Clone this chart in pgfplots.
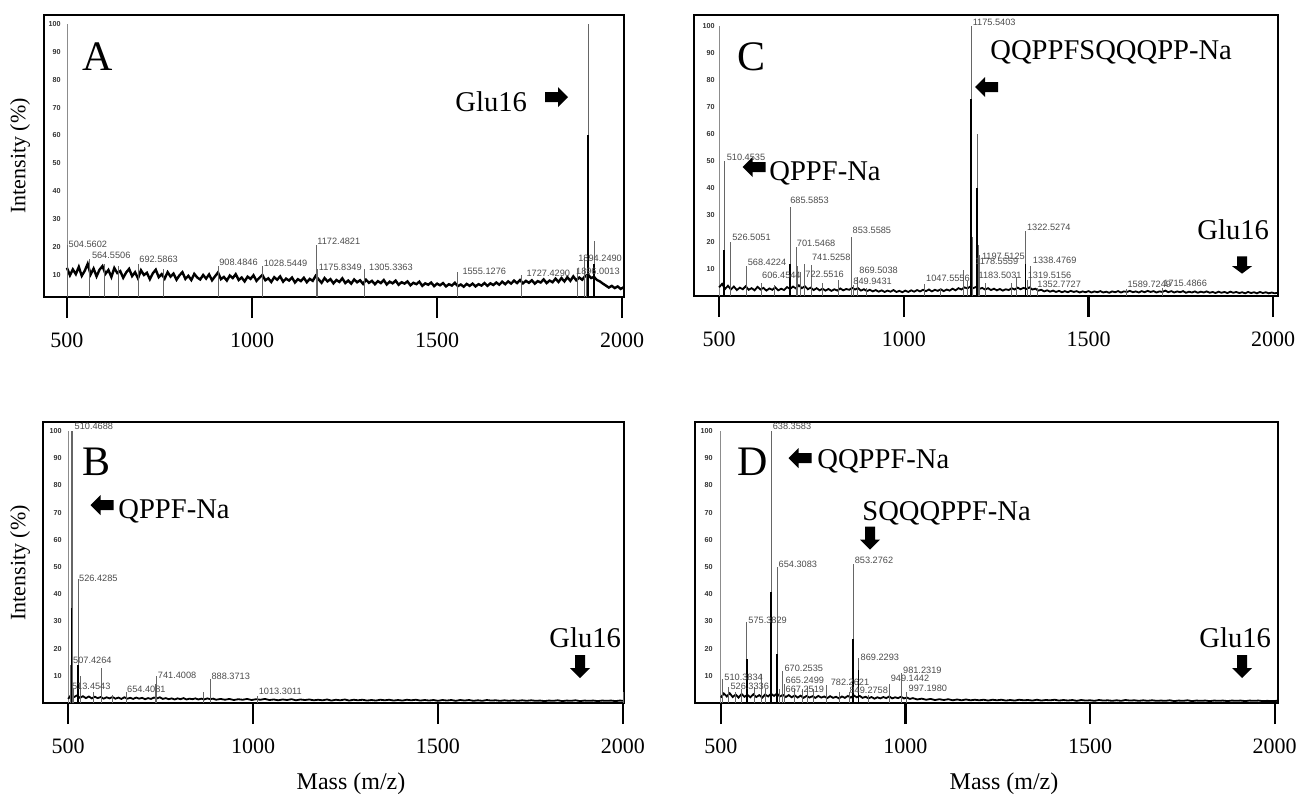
\documentclass[border=0pt]{standalone}
\usepackage{pgfplots}
\pgfplotsset{compat=1.18}
\usepackage{fontspec}
\setmainfont{Liberation Serif}
\newfontfamily\arial{Liberation Sans}

\pgfplotsset{
  spec/.style={
    scale only axis, anchor=north west,
    clip mode=individual,
    axis line style={line width=0.9pt},
    xtick={500,1000,1500,2000}, xticklabels={500,1000,1500,2000},
    xtick pos=left, xtick align=outside,
    major tick length=10.5pt,
    x tick style={line width=1.1pt, black},
    x tick label style={font=\fontsize{11}{13}\selectfont, yshift=-3.7pt},
    ytick={10,20,30,40,50,60,70,80,90,100},
    yticklabels={10,20,30,40,50,60,70,80,90,100},
    ytick pos=left, ytick align=inside, y tick style={draw=none},
    y tick label style={font=\arial\bfseries\fontsize{3.6}{4}\selectfont, text=black!80, inner sep=0pt},
  },
  pk/.style={ycomb, black!60, line width=0.45pt, mark=none},
  core/.style={ycomb, black, line width=0.8pt, mark=none},
  base/.style={black, line width=0.9pt, mark=none},
  ax/.style={black!45, line width=0.4pt, mark=none},
}
\tikzset{lab/.style={font=\arial\fontsize{4.6}{5}\selectfont, text=black!70, anchor=south west, inner sep=0.3pt}}

% block arrow: centre x, centre y (px), direction, length scale
\newcommand{\barrow}[4]{\fill[shift={(#1,#2)}, rotate=#3, xscale=#4] (-11.5,-5)--(1.5,-5)--(1.5,-10)--(11.5,0)--(1.5,10)--(1.5,5)--(-11.5,5)--cycle;}

\begin{document}
\begin{tikzpicture}
\useasboundingbox (0,0) rectangle (648pt,-397pt);

% ---------------- A ----------------
\begin{axis}[spec, at={(22pt,-7.5pt)}, width=290pt, height=141pt,
  xmin=438, xmax=2005, ymin=2, ymax=103.2,
  y tick label style={xshift=8.5pt}]
\addplot[ax] coordinates {(500,2) (500,100)};
\addplot[base, line width=1.2pt] coordinates {
(500,12.5)(508,9.8)(516,11.9)(524,10.2)(532,12.8)(540,9.6)(548,11.4)(556,13.9)(564,10.1)(572,12.2)
(580,9.4)(588,11.8)(596,13.1)(604,10.3)(612,11.7)(620,9.2)(628,12.4)(636,10.6)(644,11.3)(652,8.9)
(660,10.8)(668,12.1)(676,9.5)(684,10.9)(692,8.7)(700,11.6)(708,9.9)(716,10.7)(724,8.4)(732,10.5)
(740,11.8)(748,9.1)(756,10.2)(764,8.6)(772,10.9)(780,9.3)(788,10.4)(796,8.2)(804,9.8)(812,10.9)
(820,8.5)(828,9.6)(836,8.1)(844,10.3)(852,9.0)(860,8.3)(868,9.9)(876,8.6)(884,10.1)(892,8.0)
(900,9.4)(908,10.8)(916,8.4)(924,9.2)(932,7.9)(940,9.7)(948,8.8)(956,10.2)(964,8.1)(972,9.0)
(980,7.6)(988,9.3)(996,8.5)(1004,9.8)(1012,7.8)(1020,8.9)(1028,9.9)(1036,8.0)(1044,8.7)(1052,7.4)
(1060,9.1)(1068,8.2)(1076,9.4)(1084,7.5)(1092,8.6)(1100,7.9)(1108,9.0)(1116,7.2)(1124,8.4)(1132,7.7)
(1140,8.9)(1148,7.3)(1156,8.5)(1164,7.8)(1172,9.6)(1180,8.3)(1188,7.1)(1196,8.8)(1204,7.6)(1212,8.4)
(1220,6.9)(1228,8.1)(1236,7.4)(1244,8.7)(1252,7.0)(1260,7.9)(1268,6.8)(1276,8.3)(1284,7.3)(1292,8.0)
(1300,6.7)(1308,8.2)(1316,7.1)(1324,7.8)(1332,6.6)(1340,7.7)(1348,7.0)(1356,8.1)(1364,6.5)(1372,7.5)
(1380,6.9)(1388,7.9)(1396,6.4)(1404,7.3)(1412,6.8)(1420,7.6)(1428,6.2)(1436,7.1)(1444,6.6)(1452,7.5)
(1460,6.0)(1468,6.9)(1476,6.4)(1484,7.2)(1492,5.9)(1500,6.8)(1508,6.2)(1516,7.0)(1524,5.8)(1532,6.6)
(1540,6.1)(1548,7.1)(1556,5.9)(1564,6.5)(1572,5.7)(1580,6.7)(1588,6.0)(1596,6.8)(1604,5.8)(1612,6.6)
(1620,6.1)(1628,7.0)(1636,6.0)(1644,6.9)(1652,6.3)(1660,7.2)(1668,6.4)(1676,7.5)(1684,6.6)(1692,7.6)
(1700,6.8)(1708,7.9)(1716,7.0)(1724,8.1)(1732,6.9)(1740,7.8)(1748,7.1)(1756,8.0)(1764,6.8)(1772,7.7)
(1780,7.2)(1788,8.3)(1796,7.0)(1804,7.9)(1812,7.3)(1820,8.6)(1828,7.4)(1836,8.8)(1844,7.6)(1852,9.1)
(1860,7.8)(1868,9.4)(1876,8.0)(1884,9.0)(1892,8.2)(1900,9.5)(1908,10.0)(1916,8.8)(1924,9.2)(1932,8.1)
(1940,7.6)(1948,6.8)(1956,6.1)(1964,5.4)(1972,6.0)(1980,5.2)(1988,5.8)(1996,4.9)(2004,5.5)};
\addplot[pk] coordinates {
(501,20.5)(560,15.5)(600,14)(640,13)(693,14)(760,12)(908,13)(1028,13)(1173,20.5)(1176,12)
(1305,12)(1555,11)(1727,10)(1880,12)(1897,16.5)(1903,10)(1908,100)(1924,22)};
\addplot[core] coordinates {(1908,60)(1924,14)};
\node[lab] at (axis cs:502,19.5) {504.5602};
\node[lab] at (axis cs:565,15.4) {564.5506};
\node[lab] at (axis cs:693,14) {692.5863};
\node[lab] at (axis cs:909,13) {908.4846};
\node[lab] at (axis cs:1029,12.7) {1028.5449};
\node[lab] at (axis cs:1174,20.5) {1172.4821};
\node[lab] at (axis cs:1178,11.2) {1175.8349};
\node[lab] at (axis cs:1314,11.2) {1305.3363};
\node[lab] at (axis cs:1566,9.7) {1555.1276};
\node[lab] at (axis cs:1739,9.1) {1727.4290};
\node[lab] at (axis cs:1879,14.5) {1894.2490};
\node[lab] at (axis cs:1873,9.7) {1896.0013};
\end{axis}

% ---------------- C ----------------
\begin{axis}[spec, at={(347pt,-7.5pt)}, width=292pt, height=140.5pt,
  xmin=432, xmax=2013, ymin=0, ymax=104,
  y tick label style={xshift=10.5pt}]
\addplot[ax] coordinates {(500,0) (500,100)};
\addplot[base] coordinates {
(500,3.2)(508,4.5)(516,2.6)(524,3.8)(532,2.4)(540,3.5)(548,2.2)(556,3.1)(564,2.5)(572,3.6)
(580,2.3)(588,2.9)(596,2.1)(604,3.4)(612,2.4)(620,3.0)(628,2.0)(636,2.8)(644,2.3)(652,3.2)
(660,2.1)(668,2.7)(676,2.2)(684,3.3)(692,2.6)(700,3.5)(708,2.8)(716,4.0)(724,2.9)(732,3.6)
(740,2.5)(748,3.1)(756,2.2)(764,2.9)(772,2.1)(780,2.7)(788,2.0)(796,2.6)(804,1.9)(812,2.5)
(820,2.0)(828,2.8)(836,2.1)(844,2.6)(852,2.3)(860,3.0)(868,2.4)(876,2.9)(884,2.0)(892,2.5)
(900,1.8)(908,2.3)(916,1.7)(924,2.2)(932,1.6)(940,2.1)(948,1.5)(956,2.0)(964,1.6)(972,2.2)
(980,1.5)(988,1.9)(996,1.4)(1004,2.0)(1012,1.5)(1020,2.1)(1028,1.6)(1036,2.2)(1044,1.7)(1052,2.3)
(1060,1.8)(1068,2.4)(1076,1.7)(1084,2.3)(1092,1.9)(1100,2.5)(1108,1.8)(1116,2.4)(1124,2.0)(1132,2.7)
(1140,2.1)(1148,2.9)(1156,2.4)(1164,3.2)(1172,2.8)(1180,3.5)(1188,2.9)(1196,3.4)(1204,2.6)(1212,3.0)
(1220,2.4)(1228,2.9)(1236,2.2)(1244,2.7)(1252,2.1)(1260,2.6)(1268,2.0)(1276,2.5)(1284,2.2)(1292,2.9)
(1300,2.4)(1308,3.1)(1316,2.5)(1324,3.0)(1332,2.6)(1340,3.2)(1348,2.4)(1356,2.7)(1364,2.0)(1372,2.3)
(1380,1.7)(1388,2.1)(1396,1.6)(1404,2.0)(1412,1.5)(1420,1.9)(1428,1.4)(1436,1.8)(1444,1.4)(1452,1.9)
(1460,1.5)(1468,1.8)(1476,1.3)(1484,1.7)(1492,1.4)(1500,1.8)(1508,1.3)(1516,1.7)(1524,1.4)(1532,1.8)
(1540,1.3)(1548,1.6)(1556,1.2)(1564,1.7)(1572,1.4)(1580,1.8)(1588,1.3)(1596,1.7)(1604,1.5)(1612,1.9)
(1620,1.4)(1628,1.7)(1636,1.3)(1644,1.8)(1652,1.4)(1660,1.9)(1668,1.5)(1676,1.8)(1684,1.3)(1692,1.7)
(1700,1.5)(1708,2.0)(1716,1.4)(1724,1.8)(1732,1.3)(1740,1.7)(1748,1.4)(1756,1.8)(1764,1.2)(1772,1.6)
(1780,1.3)(1788,1.7)(1796,1.2)(1804,1.6)(1812,1.3)(1820,1.7)(1828,1.2)(1836,1.5)(1844,1.1)(1852,1.6)
(1860,1.2)(1868,1.5)(1876,1.1)(1884,1.6)(1892,1.2)(1900,1.5)(1908,1.1)(1916,1.4)(1924,1.0)(1932,1.5)
(1940,1.1)(1948,1.4)(1956,1.0)(1964,1.5)(1972,1.1)(1980,1.4)(1988,1.0)(1996,1.3)(2004,1.0)(2012,1.2)};
\addplot[pk] coordinates {
(513,17)(515,50)(531,20)(575,11)(614,5)(650,4)(692,33)(708,18)(713,11)(719,9)
(732,12)(749,11.5)(780,5)(823,6)(859,22)(864,4)(874,7)(900,3)(1056,4.5)(1100,3)
(1162,9.5)(1171,5.5)(1182,100)(1185,22)(1198,60)(1202,19)(1205,15)(1220,5)(1292,5)(1306,7)
(1329,24)(1336,6)(1342,11)(1361,3)(1603,2.5)(1700,3)};
\addplot[core] coordinates {(513,17)(692,12)(1182,73)(1198,40)(1329,12)};
\node[lab] at (axis cs:518,49.7) {510.4535};
\node[lab] at (axis cs:533,20.1) {526.5051};
\node[lab] at (axis cs:575,10.8) {568.4224};
\node[lab] at (axis cs:614,6.2) {606.4544};
\node[lab] at (axis cs:690,33.7) {685.5853};
\node[lab] at (axis cs:708,18) {701.5468};
\node[lab] at (axis cs:749,12.7) {741.5258};
\node[lab] at (axis cs:731,6.5) {722.5516};
\node[lab] at (axis cs:859,22.8) {853.5585};
\node[lab] at (axis cs:877,8) {869.5038};
\node[lab] at (axis cs:861,3.7) {849.9431};
\node[lab] at (axis cs:1058,4.9) {1047.5556};
\node[lab] at (axis cs:1184,99.6) {1175.5403};
\node[lab] at (axis cs:1209,13.1) {1197.5125};
\node[lab] at (axis cs:1191,11.1) {1178.5559};
\node[lab] at (axis cs:1200,6.2) {1183.5031};
\node[lab] at (axis cs:1331,23.8) {1322.5274};
\node[lab] at (axis cs:1347,11.5) {1338.4769};
\node[lab] at (axis cs:1333,6) {1319.5156};
\node[lab] at (axis cs:1359,2.8) {1352.7727};
\node[lab] at (axis cs:1603,2.8) {1589.7249};
\node[lab] at (axis cs:1700,3) {1715.4866};
\end{axis}

% ---------------- B ----------------
\begin{axis}[spec, at={(21.5pt,-211pt)}, width=290.5pt, height=140.5pt,
  xmin=432, xmax=2003, ymin=0, ymax=103.3,
  y tick label style={xshift=9.5pt}]
\addplot[ax] coordinates {(500,0) (500,100)};
\addplot[base] coordinates {
(500,1.5)(508,3.0)(516,2.2)(524,2.8)(532,1.9)(540,2.5)(548,1.8)(556,2.4)(564,1.7)(572,2.3)
(580,1.8)(588,2.2)(596,1.6)(604,2.1)(612,1.7)(620,2.2)(628,1.6)(636,2.0)(644,1.5)(652,2.1)
(660,1.6)(668,1.9)(676,1.5)(684,2.0)(692,1.6)(700,1.9)(708,1.4)(716,1.8)(724,1.5)(732,2.0)
(740,1.7)(748,2.1)(756,1.5)(764,1.8)(772,1.4)(780,1.7)(788,1.3)(796,1.7)(804,1.4)(812,1.8)
(820,1.3)(828,1.6)(836,1.4)(844,1.7)(852,1.3)(860,1.6)(868,1.3)(876,1.7)(884,1.4)(892,1.6)
(900,1.2)(912,1.5)(924,1.2)(936,1.5)(948,1.1)(960,1.4)(972,1.2)(984,1.5)(996,1.1)(1008,1.4)
(1020,1.2)(1032,1.5)(1044,1.1)(1056,1.3)(1068,1.0)(1080,1.3)(1092,1.1)(1104,1.4)(1116,1.0)(1128,1.3)
(1140,1.1)(1152,1.3)(1164,1.0)(1176,1.2)(1188,1.0)(1200,1.3)(1212,0.9)(1224,1.2)(1236,1.0)(1248,1.3)
(1260,0.9)(1272,1.2)(1284,1.0)(1296,1.2)(1308,0.9)(1320,1.1)(1332,0.9)(1344,1.2)(1356,1.0)(1368,1.2)
(1380,0.9)(1392,1.1)(1404,0.9)(1416,1.2)(1428,1.0)(1440,1.2)(1452,0.9)(1464,1.1)(1476,0.9)(1488,1.1)
(1500,0.8)(1512,1.1)(1524,0.9)(1536,1.1)(1548,0.8)(1560,1.1)(1572,0.9)(1584,1.1)(1596,0.8)(1608,1.0)
(1620,0.8)(1632,1.1)(1644,0.9)(1656,1.0)(1668,0.8)(1680,1.0)(1692,0.8)(1704,1.0)(1716,0.8)(1728,1.0)
(1740,0.8)(1752,1.0)(1764,0.8)(1776,0.9)(1788,0.7)(1800,0.9)(1812,0.8)(1824,1.0)(1836,0.7)(1848,0.9)
(1860,0.8)(1872,1.0)(1884,0.7)(1896,0.9)(1908,0.8)(1920,0.9)(1932,0.7)(1944,0.9)(1956,0.8)(1968,0.9)
(1980,0.7)(1992,0.9)(2002,0.8)};
\addplot[pk] coordinates {
(505,14)(508.5,100)(511.5,100)(513,5)(527,45.6)(533,10)(569,4)(589,12.8)(620,3)(657,4)
(735,7)(738,10)(865,4)(885,8.7)(1013,2.5)(2002,4)};
\addplot[core] coordinates {(509,35)(527,14)};
\node[lab] at (axis cs:515,100.3) {510.4688};
\node[lab] at (axis cs:527,44.4) {526.4285};
\node[lab] at (axis cs:511,14.3) {507.4264};
\node[lab] at (axis cs:508,4.7) {513.4543};
\node[lab] at (axis cs:657,3.6) {654.4081};
\node[lab] at (axis cs:740,8.7) {741.4008};
\node[lab] at (axis cs:885,8.4) {888.3713};
\node[lab] at (axis cs:1013,2.6) {1013.3011};
\end{axis}

% ---------------- D ----------------
\begin{axis}[spec, at={(347.5pt,-211pt)}, width=291.5pt, height=140.5pt,
  xmin=430, xmax=2009, ymin=0, ymax=103.3,
  y tick label style={xshift=9pt}]
\addplot[ax] coordinates {(500,0) (500,100)};
\addplot[base] coordinates {
(500,2.0)(508,3.5)(516,2.4)(524,3.6)(532,2.2)(540,3.1)(548,2.0)(556,3.3)(564,2.3)(572,3.0)
(580,2.1)(588,3.2)(596,2.2)(604,2.9)(612,2.0)(620,3.1)(628,2.4)(636,3.4)(644,2.6)(652,3.5)
(660,2.4)(668,3.0)(676,2.2)(684,2.9)(692,2.1)(700,2.8)(708,2.0)(716,2.7)(724,1.9)(732,2.6)
(740,2.0)(748,2.5)(756,1.9)(764,2.6)(772,2.0)(780,2.4)(788,1.8)(796,2.5)(804,1.9)(812,2.3)
(820,1.7)(828,2.4)(836,1.9)(844,2.6)(852,2.0)(860,2.8)(868,2.1)(876,2.6)(884,1.9)(892,2.3)
(900,1.7)(908,2.2)(916,1.6)(924,2.1)(932,1.7)(940,2.2)(948,1.8)(956,2.4)(964,1.7)(972,2.1)
(980,1.8)(988,2.3)(996,1.7)(1004,2.0)(1012,1.5)(1020,1.8)(1032,1.3)(1044,1.6)(1056,1.2)(1068,1.5)
(1080,1.1)(1092,1.4)(1104,1.1)(1116,1.4)(1128,1.0)(1140,1.3)(1152,1.0)(1164,1.3)(1176,1.0)(1188,1.2)
(1200,1.0)(1212,1.2)(1224,0.9)(1236,1.2)(1248,1.0)(1260,1.2)(1272,0.9)(1284,1.1)(1296,0.9)(1308,1.2)
(1320,1.0)(1332,1.1)(1344,0.9)(1356,1.2)(1368,0.9)(1380,1.1)(1392,1.0)(1404,1.2)(1416,0.9)(1428,1.1)
(1440,0.9)(1452,1.1)(1464,0.8)(1476,1.1)(1488,0.9)(1500,1.0)(1512,0.8)(1524,1.1)(1536,0.9)(1548,1.0)
(1560,0.8)(1572,1.0)(1584,0.8)(1596,1.1)(1608,0.9)(1620,1.0)(1632,0.8)(1644,1.0)(1656,0.8)(1668,1.0)
(1680,0.8)(1692,0.9)(1704,0.8)(1716,1.0)(1728,0.7)(1740,0.9)(1752,0.8)(1764,1.0)(1776,0.7)(1788,0.9)
(1800,0.8)(1812,0.9)(1824,0.7)(1836,0.9)(1848,0.8)(1860,0.9)(1872,0.7)(1884,0.9)(1896,0.8)(1908,0.9)
(1920,0.7)(1932,0.9)(1944,0.8)(1956,0.9)(1968,0.7)(1980,0.8)(1992,0.7)(2006,0.8)};
\addplot[pk] coordinates {
(504.5,8.7)(520,6)(540,4)(557,5)(570.5,29.6)(590,6)(611,10.6)(620,5)(636,100)(652,50)
(660,5)(668,11.8)(673,7)(700,5)(720,5)(735,6)(750,5)(786,6.5)(820,4)(848,4)
(858,51)(873,16.5)(900,3)(957,7)(988,11)(1003,4)};
\addplot[core] coordinates {(570.5,16)(636,40.7)(652,18)(858,23.5)(873,12)};
\node[lab] at (axis cs:638,100.3) {638.3583};
\node[lab] at (axis cs:654,49.3) {654.3083};
\node[lab] at (axis cs:572,28.8) {575.3829};
\node[lab] at (axis cs:860,50.9) {853.2762};
\node[lab] at (axis cs:876,15.2) {869.2293};
\node[lab] at (axis cs:670,11.2) {670.2535};
\node[lab] at (axis cs:507,7.7) {510.3834};
\node[lab] at (axis cs:523.5,4.4) {526.3336};
\node[lab] at (axis cs:673,6.9) {665.2499};
\node[lab] at (axis cs:673,3.4) {667.2519};
\node[lab] at (axis cs:795,6.0) {782.2621};
\node[lab] at (axis cs:846,3.0) {849.2758};
\node[lab] at (axis cs:957.5,7.5) {949.1442};
\node[lab] at (axis cs:991,10.3) {981.2319};
\node[lab] at (axis cs:1006,3.8) {997.1980};
\end{axis}

% ---------------- annotations (pixel grid) ----------------
\begin{scope}[x=0.5pt, y=-0.5pt]
\tikzset{big/.style={anchor=base west, inner sep=0pt, font=\fontsize{21}{24}\selectfont},
         ann/.style={anchor=base west, inner sep=0pt, font=\fontsize{14.3}{16}\selectfont}}
\node[big] at (82,70) {A};
\node[big] at (737,70) {C};
\node[big] at (82,475) {B};
\node[big] at (737,475) {D};

\node[ann] at (455,111) {Glu16};
\barrow{556.5}{97}{0}{1}

\node[ann] at (990,59) {QQPPFSQQQPP-Na};
\barrow{986.5}{87}{180}{1}
\node[ann] at (769,180) {QPPF-Na};
\barrow{754}{167}{180}{1}
\node[ann] at (1197,239) {Glu16};
\barrow{1242}{265}{-90}{0.75}

\node[ann] at (118,518) {QPPF-Na};
\barrow{102}{505}{180}{1}
\node[ann] at (549,647) {Glu16};
\barrow{580}{666.5}{-90}{1}

\node[ann] at (817,468) {QQPPF-Na};
\barrow{800}{458}{180}{1}
\node[ann] at (862,520) {SQQQPPF-Na};
\barrow{870}{538}{-90}{1}
\node[ann] at (1199,647) {Glu16};
\barrow{1242}{666.5}{-90}{1}

\node[rotate=90, font=\fontsize{11}{13}\selectfont] at (20,156) {Intensity (\%)};
\node[rotate=90, font=\fontsize{11}{13}\selectfont] at (20,563) {Intensity (\%)};
\node[anchor=base, inner sep=0pt, font=\fontsize{12}{14}\selectfont] at (351,789) {Mass (m/z)};
\node[anchor=base, inner sep=0pt, font=\fontsize{12}{14}\selectfont] at (1004,789) {Mass (m/z)};
\end{scope}
\end{tikzpicture}
\end{document}
